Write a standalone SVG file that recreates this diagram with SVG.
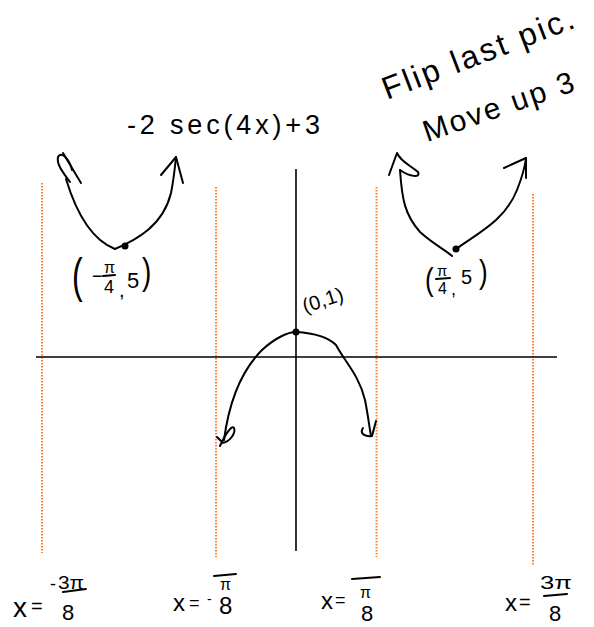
<svg xmlns="http://www.w3.org/2000/svg" width="594" height="627" viewBox="0 0 594 627">
<style>
.ink{fill:none;stroke:#000;stroke-width:2;stroke-linecap:round;stroke-linejoin:round}
.axis{fill:none;stroke:#000;stroke-width:1.6}
.asym{fill:none;stroke:#ff7f2a;stroke-width:2;stroke-dasharray:1.5 1.5}
.t{font-family:"Liberation Sans",Arial,sans-serif;fill:#000}
</style>
<rect width="594" height="627" fill="#fff"/>
<g id="asymptotes">
<line class="asym" x1="42" y1="183" x2="42" y2="553"/>
<line class="asym" x1="216" y1="187" x2="216" y2="557"/>
<line class="asym" x1="376.5" y1="187" x2="376.5" y2="557"/>
<line class="asym" x1="533" y1="194" x2="533" y2="565"/>
</g>
<g id="axes">
<line class="axis" x1="36" y1="357" x2="557" y2="357"/>
<line class="axis" x1="296" y1="169" x2="296" y2="551"/>
</g>
<g id="connectors">
<g id="left-branch">
<path class="ink" d="M66 179 C76 212 92 240 115 249 C136 240 163 226 171 193 C174 178 175 166 176 157"/>
<path class="ink" d="M161 175 L176 157 L183 183"/>
<path class="ink" d="M70 182 C65 175 56 165 58 157 C61 150 70 160 72 170"/>
<path class="ink" stroke-width="3" d="M63 153 L81 183"/>
<circle cx="125" cy="246" r="3.5" fill="#000"/>
</g>
<g id="right-branch">
<path class="ink" d="M400 170 C402 200 405 215 420 232 C432 243 445 250 452 256"/>
<path class="ink" d="M456 249 C480 232 505 220 517 190 C523 175 525 166 526 158"/>
<path class="ink" d="M504 168 L526 158 L526 178"/>
<path class="ink" d="M389 175 L397 153 C401 162 410 165 418 172 C421 178 410 177 400 170"/>
<circle cx="456" cy="249" r="3.5" fill="#000"/>
</g>
<g id="middle-branch">
<path class="ink" d="M224 440 C229 402 240 372 262 350 C275 338 288 332 296 332 C312 333 328 337 336 345 C345 362 359 375 365 400 C368 415 369 425 371 436"/>
<path class="ink" d="M220 446 C225 435 232 424 234 428 C236 433 230 442 222 443 M217 437 L222 442"/>
<path class="ink" d="M363 428 C359 434 366 437 372 436 L376 421"/>
<circle cx="296" cy="332" r="3.5" fill="#000"/>
</g>
</g>
<g id="title">
<text class="t" x="127" y="134" font-size="27" textLength="193" lengthAdjust="spacing">-2 sec(4x)+3</text>
</g>
<g id="note">
<text class="t" font-size="32" transform="translate(387,100) rotate(-21)" textLength="203" lengthAdjust="spacing">Flip last pic.</text>
<text class="t" font-size="30" transform="translate(427,142) rotate(-19)" textLength="158" lengthAdjust="spacing">Move up 3</text>
</g>
<g id="label-left">
<text class="t" font-size="32" transform="translate(72,292) scale(1,1.5)">(</text>
<text class="t" x="92" y="282" font-size="18">−</text>
<text class="t" x="104" y="273" font-size="16">π</text>
<line class="ink" stroke-width="1.6" x1="103" y1="276" x2="115" y2="275"/>
<text class="t" x="104" y="293" font-size="18">4</text>
<text class="t" x="119" y="297" font-size="20">,</text>
<text class="t" x="127" y="288" font-size="22">5</text>
<text class="t" font-size="28" transform="translate(142,284) scale(1,1.3)">)</text>
</g>
<g id="label-right">
<text class="t" font-size="26" transform="translate(425,290) scale(1,1.2)">(</text>
<text class="t" x="437" y="276" font-size="15">π</text>
<line class="ink" stroke-width="1.6" x1="436" y1="279" x2="450" y2="278"/>
<text class="t" x="438" y="294" font-size="16">4</text>
<text class="t" x="451" y="295" font-size="18">,</text>
<text class="t" x="461" y="284" font-size="20">5</text>
<text class="t" font-size="26" transform="translate(479,283) scale(1,1.3)">)</text>
</g>
<g id="label-origin">
<text class="t" font-size="20" transform="translate(305,313) rotate(-18)" textLength="42" lengthAdjust="spacing">(0,1)</text>
</g>
<g id="asym-label-1">
<text class="t" x="13" y="617" font-size="28">x</text>
<text class="t" x="31" y="613" font-size="20">=</text>
<text class="t" x="50" y="590" font-size="18">-</text>
<text class="t" x="58" y="589" font-size="18" textLength="26" lengthAdjust="spacingAndGlyphs">3π</text>
<line class="ink" stroke-width="1.6" x1="63" y1="592" x2="86" y2="589"/>
<text class="t" x="62" y="620" font-size="22">8</text>
</g>
<g id="asym-label-2">
<text class="t" x="173" y="611" font-size="24">x</text>
<text class="t" x="189" y="609" font-size="18">=</text>
<text class="t" x="207" y="604" font-size="14">-</text>
<line class="ink" stroke-width="1.6" x1="214" y1="576" x2="236" y2="574"/>
<text class="t" x="220" y="590" font-size="16">π</text>
<text class="t" x="219" y="614" font-size="24">8</text>
</g>
<g id="asym-label-3">
<text class="t" x="321" y="609" font-size="24">x</text>
<text class="t" x="335" y="606" font-size="18">=</text>
<line class="ink" stroke-width="1.6" x1="352" y1="579" x2="380" y2="577"/>
<text class="t" x="360" y="598" font-size="16">π</text>
<text class="t" x="361" y="621" font-size="22">8</text>
</g>
<g id="asym-label-4">
<text class="t" x="505" y="611" font-size="24">x</text>
<text class="t" x="519" y="609" font-size="20">=</text>
<text class="t" x="540" y="589" font-size="18" textLength="32" lengthAdjust="spacingAndGlyphs">3π</text>
<line class="ink" stroke-width="1.6" x1="544" y1="596" x2="567" y2="594"/>
<text class="t" x="549" y="621" font-size="22">8</text>
</g>
</svg>
